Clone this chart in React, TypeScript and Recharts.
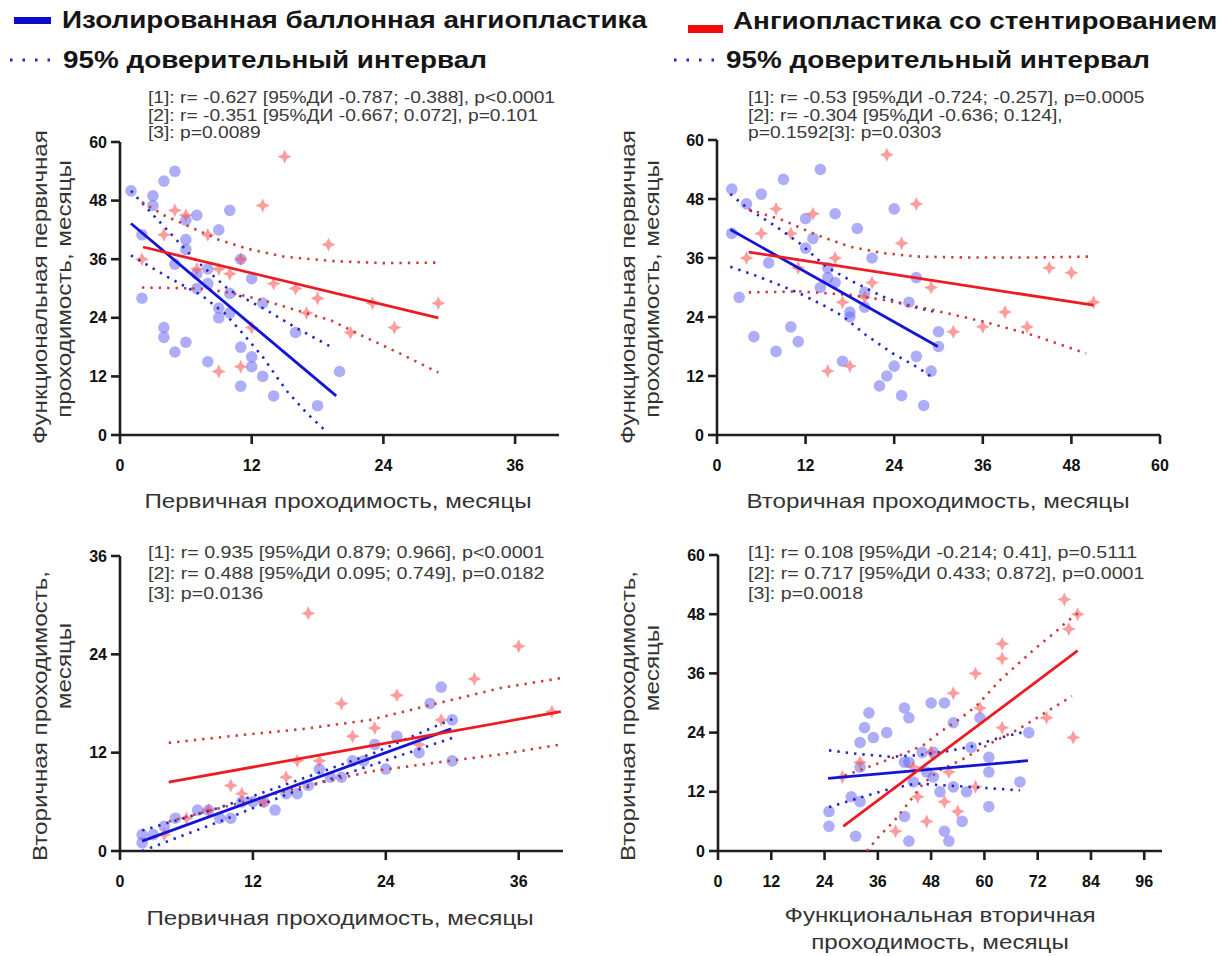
import React from 'react';
import { ScatterChart, Scatter, XAxis, YAxis } from 'recharts';

const FONT = '"Liberation Sans", Arial, sans-serif';
const BLUE = '#1414d8';
const RED = '#ec1c24';
const BLUE_DOT = '#2626c8';
const RED_DOT = '#c8403c';

type Pt = { x: number; y: number };
const pts = (a: number[][]): Pt[] => a.map(([x, y]) => ({ x, y }));

// ---- panel 1: функциональная первичная vs первичная
const p1Blue = pts([[1,50],[3,49],[3,47],[4,52],[5,54],[6,44],[7,45],[9,42],[10,46],[2,41],[6,40],[6,38],[5,35],[7,33],[8,34],[7,30],[8,31],[9,26],[10,25],[9,24],[11,36],[12,32],[10,29],[13,27],[16,21],[2,28],[4,22],[4,20],[6,19],[5,17],[11,18],[12,16],[8,15],[12,14],[11,10],[13,12],[14,8],[18,6],[20,13]]);
const p1Red = pts([[15,57],[13,47],[5,46],[6,45],[4,41],[8,41],[2,36],[19,39],[7,34],[9,34],[10,33],[11,36],[14,31],[16,30],[18,28],[17,25],[12,22],[21,21],[23,27],[25,22],[29,27],[11,14],[9,13]]);
const p1BlueFit = pts([[1,43.3],[19.7,8]]);
const p1BlueUp = pts([[1,50],[3.5,43.9],[6.8,36],[10,29.6],[13.4,25.5],[16,22],[19.1,18.2]]);
const p1BlueLo = pts([[1,36.8],[4.4,32.3],[7.5,28.5],[9.6,24.8],[11.3,20.5],[13,16],[15.2,9],[17,4.5],[18.8,0.7]]);
const p1RedFit = pts([[2.1,38.5],[29,24]]);
const p1RedUp = pts([[2,47.7],[4,45],[6.5,42.5],[9,40],[11.7,38.1],[15,36.5],[19.5,35.6],[24,35.2],[29,35.3]]);
const p1RedLo = pts([[2,30.2],[5,30.1],[8,29.9],[11,28.7],[13.2,27.5],[16,25.6],[19.3,23.4],[22,20.4],[25.5,16.7],[29,12.8]]);

// ---- panel 2: функциональная первичная vs вторичная
const p2Blue = pts([[2,50],[6,49],[9,52],[14,54],[4,47],[2,41],[12,44],[13,40],[16,45],[19,42],[12,38],[21,36],[7,35],[15,34],[15,32],[16,31],[14,30],[20,29],[20,26],[18,25],[18,24],[27,32],[26,27],[3,28],[5,20],[10,22],[11,19],[8,17],[17,15],[30,21],[30,18],[27,16],[29,13],[24,14],[23,12],[22,10],[25,8],[28,6],[24,46]]);
const p2Red = pts([[23,57],[27,47],[8,46],[13,45],[6,41],[10,41],[25,39],[4,36],[16,36],[11,34],[21,31],[29,30],[45,34],[48,33],[17,27],[20,28],[51,27],[39,25],[32,21],[36,22],[42,22],[15,13],[18,14]]);
const p2BlueFit = pts([[1.8,41.8],[29.9,18]]);
const p2BlueUp = pts([[1.8,49],[4.4,45.8],[8,42.4],[11.2,39],[14.8,34.2],[18,31.5],[22.5,28.1],[25.7,26.4],[29.3,25.1]]);
const p2BlueLo = pts([[1.8,34.2],[4.4,32.9],[8,30.8],[11.2,28.8],[14.8,26.1],[17.1,24.1],[20.2,20.3],[23.8,16.6],[27,13.9],[29,11.9]]);
const p2RedFit = pts([[4.3,37.2],[51,26.4]]);
const p2RedUp = pts([[4.3,45.9],[8.9,43.7],[13.5,40.7],[18,38.3],[22.5,37],[27,36.3],[33.8,36.1],[42.8,36.1],[51,36.3]]);
const p2RedLo = pts([[4.3,29],[11.2,29.2],[18,28.5],[22.5,27.5],[29.3,25.4],[36,23.1],[42.8,20.3],[50,16.6]]);

// ---- panel 3: вторичная vs первичная
const p3Blue = pts([[2,2],[2,1],[3,2],[4,3],[5,4],[7,5],[8,5],[9,4],[10,4],[11,6],[12,6],[13,6],[14,5],[15,7],[16,7],[17,8],[18,10],[19,9],[20,9],[21,11],[22,11],[23,13],[24,10],[25,14],[27,12],[28,18],[29,20],[30,16],[30,11]]);
const p3Red = pts([[17,29],[36,25],[32,21],[25,19],[20,18],[23,15],[21,14],[16,11],[18,11],[29,16],[27,13],[39,17],[10,8],[11,7],[15,9],[13,6],[8,5],[6,4],[4,2]]);
const p3BlueFit = pts([[2,1.2],[29.9,14.9]]);
const p3BlueUp = pts([[2,2.5],[9,5.3],[16,8.6],[23,12],[30,16.1]]);
const p3BlueLo = pts([[2,0],[9,3.6],[16,7.4],[23,10.6],[30,13.8]]);
const p3RedFit = pts([[4.4,8.4],[39.8,17]]);
const p3RedUp = pts([[4.4,13.2],[10.6,14.1],[16.6,14.9],[22.6,16],[28.6,18],[34.4,19.9],[39.8,21.1]]);
const p3RedLo = pts([[4.4,3.6],[10.6,5.8],[16.6,7.9],[22.6,9.7],[28.6,10.8],[34.4,11.8],[39.8,13]]);

// ---- panel 4: вторичная vs функциональная вторичная
const p4Blue = pts([[34,28],[33,25],[35,23],[32,22],[38,24],[42,29],[43,27],[48,30],[51,30],[53,26],[59,27],[70,24],[32,17],[25,8],[25,5],[31,3],[43,2],[52,2],[51,4],[42,7],[55,6],[61,9],[56,12],[50,12],[53,13],[61,16],[61,19],[68,14],[57,21],[46,20],[48.5,20],[42,18],[43,18],[47,16],[48.5,15],[44,14],[30,11],[32,10]]);
const p4Red = pts([[78,51],[81,48],[79,45],[64,42],[64,39],[58,36],[53,32],[59,29],[74,27],[80,23],[64,25],[32,18],[28,15],[44,17],[45,11],[40,4],[47,6],[51,10],[54,8],[52,16],[58,13],[48,20]]);
const p4BlueFit = pts([[24.8,14.7],[69.8,18.3]]);
const p4BlueUp = pts([[25,20.4],[31.2,19.7],[38.7,19.1],[44.7,19.4],[50.8,20.1],[56.8,21.1],[62.8,22.8],[68.8,24.1]]);
const p4BlueLo = pts([[25,8.9],[31.2,10.6],[38.7,12.6],[44.7,13.7],[50.8,13.3],[56.8,13],[62.8,12.6],[68,12.3]]);
const p4RedFit = pts([[28.2,5],[81,40.6]]);
const p4RedUp = pts([[28.5,15.3],[32,16.4],[35,17.4],[38,18.4],[41,19.4],[46.2,21.4],[50,24.1],[54.5,26.8],[58.3,29.5],[63.5,34.6],[71,40.7],[75.6,44.1],[78.6,46.5],[81.2,48.3]]);
const p4RedLo = pts([[33.5,0],[36.5,3.2],[39.5,5.9],[42.5,9.3],[46.2,13.7],[50,16.4],[55.3,18.7],[61.3,21.8],[67.3,24.5],[74,28.2],[79.7,31.4]]);

const ticks12to36 = [0, 12, 24, 36];
const ticks12to60 = [0, 12, 24, 36, 48, 60];
const ticks12to96 = [0, 12, 24, 36, 48, 60, 72, 84, 96];

const Circle = (p: any) => <circle cx={p.cx} cy={p.cy} r={5.8} fill="#6c6cf2" fillOpacity={0.55} />;
const Plus = (p: any) => {
  const { cx, cy } = p;
  const a = 7, b = 2.2;
  const d = `M${cx},${cy - a} L${cx + b},${cy - b} L${cx + a},${cy} L${cx + b},${cy + b} L${cx},${cy + a} L${cx - b},${cy + b} L${cx - a},${cy} L${cx - b},${cy - b} Z`;
  return <path d={d} fill="#ff4a4a" fillOpacity={0.55} />;
};
const NoDot = () => <g />;

const axisLine = { stroke: '#1e1e1e', strokeWidth: 2.6 };
const tickFont = { fill: '#111', fontSize: 16, fontWeight: 700, fontFamily: FONT };

function Panel(props: any) {
  const { left, top, width, height, margin, xDomain, xTicks, yDomain, yTicks, d } = props;
  const fit = (data: Pt[], color: string) => (
    <Scatter data={data} shape={NoDot} line={{ stroke: color, strokeWidth: 2.8 }} isAnimationActive={false} />
  );
  const ci = (data: Pt[], color: string) => (
    <Scatter data={data} shape={NoDot} line={{ stroke: color, strokeWidth: 2.6, strokeDasharray: '2.4 6' }} isAnimationActive={false} />
  );
  return (
    <div style={{ position: 'absolute', left, top }}>
      <ScatterChart width={width} height={height} margin={margin}>
        <XAxis type="number" dataKey="x" domain={xDomain} ticks={xTicks} interval={0} allowDataOverflow height={40}
          axisLine={axisLine} tickLine={axisLine} tickSize={9} tickMargin={16} tick={tickFont} />
        <YAxis type="number" dataKey="y" domain={yDomain} ticks={yTicks} interval={0} allowDataOverflow width={50}
          axisLine={axisLine} tickLine={axisLine} tickSize={9} tickMargin={4} tick={tickFont} />
        <Scatter data={d.blue} shape={Circle} isAnimationActive={false} />
        <Scatter data={d.red} shape={Plus} isAnimationActive={false} />
        {ci(d.blueUp, BLUE_DOT)}
        {ci(d.blueLo, BLUE_DOT)}
        {ci(d.redUp, RED_DOT)}
        {ci(d.redLo, RED_DOT)}
        {fit(d.blueFit, BLUE)}
        {fit(d.redFit, RED)}
      </ScatterChart>
    </div>
  );
}

const textBase: React.CSSProperties = { position: 'absolute', fontFamily: FONT, whiteSpace: 'nowrap' };

const Note = ({ left, top, lines, lh, sx }: any) => (
  <div style={{ ...textBase, left, top, fontSize: 17, lineHeight: `${lh}px`, color: '#3a3a3a', transform: `scaleX(${sx})`, transformOrigin: 'left top' }}>
    {lines.map((l: string, i: number) => <div key={i}>{l}</div>)}
  </div>
);

// one rotated line of an axis title, centred on (cx, cy)
const YLine = ({ cx, cy, text }: any) => (
  <div style={{ ...textBase, left: cx, top: cy, transform: 'translate(-50%, -50%) rotate(-90deg) scaleX(1.15)', fontSize: 21, lineHeight: '24px', color: '#333' }}>
    {text}
  </div>
);

const XTitle = ({ cx, cy, lines }: any) => (
  <div style={{ ...textBase, left: cx, top: cy, transform: 'translate(-50%, -50%) scaleX(1.15)', fontSize: 21, lineHeight: '27px', color: '#333', textAlign: 'center' }}>
    {lines.map((l: string, i: number) => <div key={i}>{l}</div>)}
  </div>
);

const DotSample = ({ left, top }: any) => (
  <svg style={{ position: 'absolute', left, top }} width={46} height={8}>
    <line x1={3} y1={4} x2={44} y2={4} stroke={BLUE_DOT} strokeWidth={3} strokeDasharray="2.5 10" />
  </svg>
);

const legendFont: React.CSSProperties = { ...textBase, fontSize: 24, fontWeight: 700, color: '#151515', lineHeight: '26px', transform: 'scaleX(1.16)', transformOrigin: 'left center' };

export default function App() {
  return (
    <div style={{ position: 'absolute', left: 0, top: 0, width: 1223, height: 956, background: '#fff', overflow: 'hidden' }}>
      {/* legend */}
      <div style={{ position: 'absolute', left: 14, top: 17, width: 37, height: 7, background: '#0a0ac8' }} />
      <div style={{ ...legendFont, left: 62, top: 7 }}>Изолированная баллонная ангиопластика</div>
      <DotSample left={7} top={56} />
      <div style={{ ...legendFont, left: 63, top: 47 }}>95% доверительный интервал</div>
      <div style={{ position: 'absolute', left: 688, top: 25, width: 35, height: 8, background: '#f00a0a' }} />
      <div style={{ ...legendFont, left: 733, top: 8 }}>Ангиопластика со стентированием</div>
      <DotSample left={671} top={56} />
      <div style={{ ...legendFont, left: 726, top: 47 }}>95% доверительный интервал</div>

      <Panel left={0} top={0} width={600} height={520} margin={{ left: 70, right: 41, top: 142, bottom: 45 }}
        xDomain={[0, 40]} xTicks={ticks12to36} yDomain={[0, 60]} yTicks={ticks12to60}
        d={{ blue: p1Blue, red: p1Red, blueFit: p1BlueFit, blueUp: p1BlueUp, blueLo: p1BlueLo, redFit: p1RedFit, redUp: p1RedUp, redLo: p1RedLo }} />
      <Panel left={600} top={0} width={623} height={520} margin={{ left: 67, right: 63, top: 140, bottom: 45 }}
        xDomain={[0, 60]} xTicks={ticks12to60} yDomain={[0, 60]} yTicks={ticks12to60}
        d={{ blue: p2Blue, red: p2Red, blueFit: p2BlueFit, blueUp: p2BlueUp, blueLo: p2BlueLo, redFit: p2RedFit, redUp: p2RedUp, redLo: p2RedLo }} />
      <Panel left={0} top={520} width={600} height={436} margin={{ left: 70, right: 37, top: 36, bottom: 65 }}
        xDomain={[0, 40]} xTicks={ticks12to36} yDomain={[0, 36]} yTicks={ticks12to36}
        d={{ blue: p3Blue, red: p3Red, blueFit: p3BlueFit, blueUp: p3BlueUp, blueLo: p3BlueLo, redFit: p3RedFit, redUp: p3RedUp, redLo: p3RedLo }} />
      <Panel left={600} top={520} width={623} height={436} margin={{ left: 68, right: 61, top: 35, bottom: 65 }}
        xDomain={[0, 100]} xTicks={ticks12to96} yDomain={[0, 60]} yTicks={ticks12to60}
        d={{ blue: p4Blue, red: p4Red, blueFit: p4BlueFit, blueUp: p4BlueUp, blueLo: p4BlueLo, redFit: p4RedFit, redUp: p4RedUp, redLo: p4RedLo }} />

      <Note left={148} top={89} lh={17.5} sx={1.13} lines={['[1]: r= -0.627 [95%ДИ -0.787; -0.388], p<0.0001', '[2]: r= -0.351 [95%ДИ -0.667; 0.072], p=0.101', '[3]: p=0.0089']} />
      <Note left={748} top={89} lh={17.5} sx={1.13} lines={['[1]: r= -0.53 [95%ДИ -0.724; -0.257], p=0.0005', '[2]: r= -0.304 [95%ДИ -0.636; 0.124],', 'p=0.1592[3]: p=0.0303']} />
      <Note left={148} top={543} lh={20.5} sx={1.155} lines={['[1]: r= 0.935 [95%ДИ 0.879; 0.966], p<0.0001', '[2]: r= 0.488 [95%ДИ 0.095; 0.749], p=0.0182', '[3]: p=0.0136']} />
      <Note left={748} top={543} lh={20.5} sx={1.155} lines={['[1]: r= 0.108 [95%ДИ -0.214; 0.41], p=0.5111', '[2]: r= 0.717 [95%ДИ 0.433; 0.872], p=0.0001', '[3]: p=0.0018']} />

      <YLine cx={40} cy={287} text="Функциональная первичная" />
      <YLine cx={64} cy={289} text="проходимость, месяцы" />
      <YLine cx={628} cy={287} text="Функциональная первичная" />
      <YLine cx={652} cy={289} text="проходимость, месяцы" />
      <YLine cx={40} cy={716} text="Вторичная проходимость," />
      <YLine cx={64} cy={666} text="месяцы" />
      <YLine cx={628} cy={716} text="Вторичная проходимость," />
      <YLine cx={652} cy={668} text="месяцы" />

      <XTitle cx={338} cy={500} lines={['Первичная проходимость, месяцы']} />
      <XTitle cx={938} cy={500} lines={['Вторичная проходимость, месяцы']} />
      <XTitle cx={340} cy={917} lines={['Первичная проходимость, месяцы']} />
      <XTitle cx={940} cy={928} lines={['Функциональная вторичная', 'проходимость, месяцы']} />
    </div>
  );
}
